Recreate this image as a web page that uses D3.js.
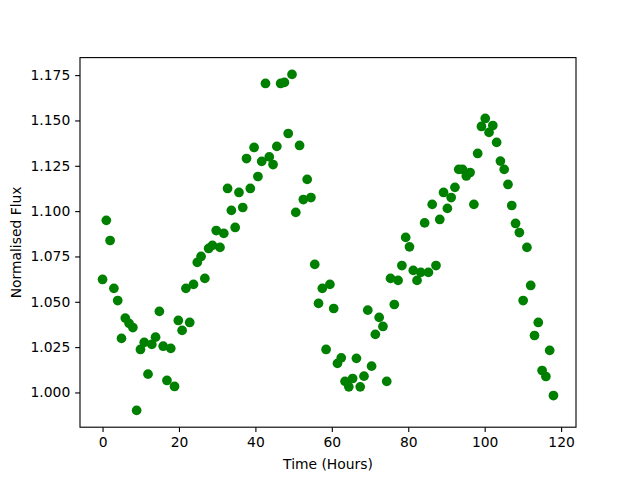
<!DOCTYPE html>
<html>
<head>
<meta charset="utf-8">
<script src="https://cdn.jsdelivr.net/npm/d3@7"></script>
<style>
body { margin: 0; background: #fff; }
text { font-family: "DejaVu Sans", sans-serif; }
</style>
</head>
<body>
<script>
// time of each sample, hours
var hours = [0, 0.99, 1.98, 2.97, 3.97, 4.96, 5.95, 6.94, 7.93, 8.92,
  9.92, 10.91, 11.90, 12.89, 13.88, 14.87, 15.87, 16.86, 17.85, 18.84,
  19.83, 20.82, 21.82, 22.81, 23.80, 24.79, 25.78, 26.77, 27.76, 28.76,
  29.75, 30.74, 31.73, 32.72, 33.71, 34.71, 35.70, 36.69, 37.68, 38.67,
  39.66, 40.66, 41.65, 42.64, 43.63, 44.62, 45.61, 46.61, 47.60, 48.59,
  49.58, 50.57, 51.56, 52.55, 53.55, 54.54, 55.53, 56.52, 57.51, 58.50,
  59.50, 60.49, 61.48, 62.47, 63.46, 64.45, 65.45, 66.44, 67.43, 68.42,
  69.41, 70.40, 71.39, 72.39, 73.38, 74.37, 75.36, 76.35, 77.34, 78.34,
  79.33, 80.32, 81.31, 82.30, 83.29, 84.29, 85.28, 86.27, 87.26, 88.25,
  89.24, 90.24, 91.23, 92.22, 93.21, 94.20, 95.19, 96.18, 97.18, 98.17,
  99.16, 100.15, 101.14, 102.13, 103.13, 104.12, 105.11, 106.10, 107.09, 108.08,
  109.08, 110.07, 111.06, 112.05, 113.04, 114.03, 115.03, 116.02, 117.01, 118.00];

// normalised flux
var flux = [1.0623, 1.0949, 1.0838, 1.0574, 1.0507, 1.0298, 1.0410, 1.0381, 1.0358, 0.9901,
  1.0237, 1.0276, 1.0101, 1.0265, 1.0305, 1.0447, 1.0255, 1.0066, 1.0243, 1.0033,
  1.0397, 1.0342, 1.0574, 1.0386, 1.0596, 1.0717, 1.0750, 1.0629, 1.0794, 1.0811,
  1.0893, 1.0800, 1.0877, 1.1125, 1.1004, 1.0910, 1.1103, 1.1020, 1.1290, 1.1125,
  1.1351, 1.1191, 1.1274, 1.1704, 1.1299, 1.1257, 1.1357, 1.1704, 1.1710, 1.1428,
  1.1754, 1.0993, 1.1362, 1.1064, 1.1175, 1.1075, 1.0706, 1.0491, 1.0574, 1.0237,
  1.0596, 1.0463, 1.0160, 1.0191, 1.0061, 1.0031, 1.0077, 1.0188, 1.0031, 1.0090,
  1.0454, 1.0145, 1.0320, 1.0414, 1.0364, 1.0061, 1.0629, 1.0485, 1.0618, 1.0700,
  1.0855, 1.0803, 1.0673, 1.0618, 1.0662, 1.0935, 1.0662, 1.1037, 1.0700, 1.0954,
  1.1103, 1.1015, 1.1075, 1.1131, 1.1230, 1.1230, 1.1194, 1.1213, 1.1037, 1.1318,
  1.1467, 1.1511, 1.1434, 1.1472, 1.1379, 1.1276, 1.1230, 1.1147, 1.1031, 1.0932,
  1.0882, 1.0507, 1.0800, 1.0590, 1.0314, 1.0386, 1.0121, 1.0088, 1.0232, 0.9983];

var xTicks = [0, 20, 40, 60, 80, 100, 120];
var yTicks = [1.000, 1.025, 1.050, 1.075, 1.100, 1.125, 1.150, 1.175];

var width = 640, height = 480;
var plotL = 80, plotR = 576, plotT = 57.6, plotB = 427.2;
var pt = 100 / 72; // points to pixels

var svg = d3.select("body").append("svg").attr("width", width).attr("height", height);

function padded(ext) { // matplotlib style 5% margins
  var m = (ext[1] - ext[0]) * 0.05;
  return [ext[0] - m, ext[1] + m];
}

var x = d3.scaleLinear().domain(padded(d3.extent(hours))).range([plotL, plotR]);
var y = d3.scaleLinear().domain(padded(d3.extent(flux))).range([plotB, plotT]);

var data = hours.map(function (h, i) { return {t: h, f: flux[i]}; });

// marker: 6pt face plus a 1pt edge of the same colour
svg.append("g").selectAll("circle").data(data).enter().append("circle")
  .attr("cx", function (d) { return x(d.t); })
  .attr("cy", function (d) { return y(d.f); })
  .attr("r", 3.5 * pt)
  .attr("fill", "#008000");

var xAxis = d3.axisBottom(x).tickValues(xTicks).tickFormat(d3.format("d"))
  .tickSize(3.5 * pt).tickPadding(3.5 * pt).tickSizeOuter(0);
var yAxis = d3.axisLeft(y).tickValues(yTicks).tickFormat(d3.format(".3f"))
  .tickSize(3.5 * pt).tickPadding(3.5 * pt).tickSizeOuter(0);

var gx = svg.append("g").attr("transform", "translate(0," + plotB + ")").call(xAxis);
var gy = svg.append("g").attr("transform", "translate(" + plotL + ",0)").call(yAxis);

[gx, gy].forEach(function (g) {
  g.select(".domain").remove();
  g.selectAll(".tick line").attr("stroke", "#000").attr("stroke-width", 0.8 * pt);
  g.selectAll(".tick text").attr("fill", "#000").style("font-size", (10 * pt) + "px")
    .style("font-family", "DejaVu Sans");
});
gx.selectAll(".tick text").attr("dy", "0.76em");

// frame
svg.append("rect")
  .attr("x", plotL).attr("y", plotT)
  .attr("width", plotR - plotL).attr("height", plotB - plotT)
  .attr("fill", "none").attr("stroke", "#000").attr("stroke-width", 0.8 * pt);

svg.append("text")
  .attr("x", (plotL + plotR) / 2).attr("y", 469)
  .attr("text-anchor", "middle")
  .style("font-size", (10 * pt) + "px")
  .text("Time (Hours)");

svg.append("text")
  .attr("transform", "translate(21," + (plotT + plotB) / 2 + ") rotate(-90)")
  .attr("text-anchor", "middle")
  .style("font-size", (10 * pt) + "px")
  .text("Normalised Flux");
</script>
</body>
</html>
